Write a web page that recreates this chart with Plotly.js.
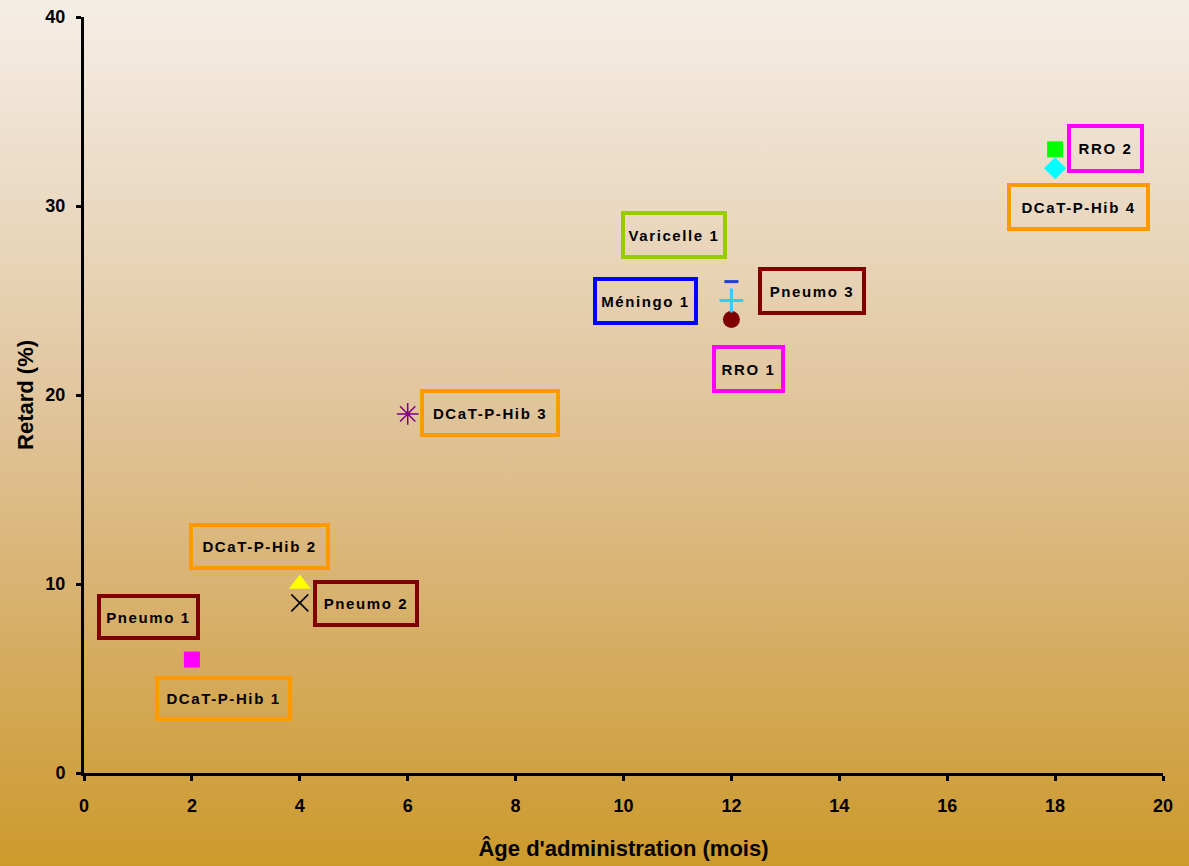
<!DOCTYPE html>
<html>
<head>
<meta charset="utf-8">
<script src="https://cdn.plot.ly/plotly-3.0.1.min.js"></script>
<style>
  html, body { margin: 0; padding: 0; }
  body {
    width: 1189px; height: 866px; overflow: hidden;
    background: linear-gradient(to bottom, #F5EEE6 0%, #EAD8C0 25%, #DFC296 50%, #D6AC62 75%, #CC9A2C 100%);
  }
  #chart { width: 1189px; height: 866px; }
  .annotation-text { letter-spacing: 1.6px; }
</style>
</head>
<body>
<div id="chart"></div>
<script>
// Data
const vaccines = ['Pneumo 1', 'DCaT-P-Hib 1', 'DCaT-P-Hib 2', 'Pneumo 2', 'DCaT-P-Hib 3',
                  'Varicelle 1', 'Pneumo 3', 'RRO 1', 'Méningo 1', 'RRO 2', 'DCaT-P-Hib 4'];
const ageMonths = [2, 2, 4, 4, 6, 12, 12, 12, 12, 18, 18];
const delayPct  = [6, 6, 10, 9, 19, 24, 24, 25, 26, 33, 32];
const xTicks = [0, 2, 4, 6, 8, 10, 12, 14, 16, 18, 20];
const yTicks = [0, 10, 20, 30, 40];

// Styles (marker per series, label box colour, label position)
const markerStyle = [
  {symbol: 'diamond', size: 10, color: '#000080'},
  {symbol: 'square', size: 16, color: '#FF00FF'},
  {symbol: 'triangle-up', size: 19, color: '#FFFF00'},
  {symbol: 'x-thin-open', size: 17, color: '#000000', line: {color: '#000000', width: 1.5}},
  {symbol: 'asterisk-open', size: 18, color: '#800080', line: {color: '#800080', width: 1.5}},
  {symbol: 'circle', size: 10, color: '#800000'},
  {symbol: 'circle', size: 17, color: '#800000'},
  {symbol: 'cross-thin-open', size: 17, color: '#33CCFF', line: {color: '#33CCFF', width: 3}},
  {symbol: 'line-ew-open', size: 10, color: '#1F3FD0', line: {color: '#1F3FD0', width: 3}},
  {symbol: 'square', size: 16, color: '#00FF00'},
  {symbol: 'diamond', size: 17, color: '#00FFFF'}
];
const boxColor = ['#800000', '#FF9900', '#FF9900', '#800000', '#FF9900',
                  '#99CC00', '#800000', '#FF00FF', '#0000FF', '#FF00FF', '#FF9900'];
const labelPos = [[1.2, 8.25], [2.59, 3.94], [3.26, 11.98], [5.22, 8.96], [7.53, 19.04],
                  [10.94, 28.45], [13.50, 25.49], [12.31, 21.36], [10.40, 24.96], [18.94, 33.03], [18.44, 29.93]];
const boxSize = [[103, 46], [137, 45], [141, 47], [106, 47], [140, 48],
                 [106, 48], [108, 48], [73, 48], [105, 48], [77, 49], [143, 48]];

const traces = vaccines.map((v, i) => ({
  type: 'scatter', mode: 'markers', name: v,
  x: [ageMonths[i]], y: [delayPct[i]],
  marker: Object.assign({line: {width: 0}}, markerStyle[i]),
  hoverinfo: 'name+x+y'
}));

const annotations = vaccines.map((v, i) => ({
  x: labelPos[i][0], y: labelPos[i][1], xref: 'x', yref: 'y',
  text: '<b>' + v + '</b>', showarrow: false,
  font: {family: 'Liberation Sans, Arial, sans-serif', size: 15, color: '#000000'},
  bordercolor: boxColor[i], borderwidth: 4, borderpad: 0,
  width: boxSize[i][0] - 8, height: boxSize[i][1] - 8,
  xanchor: 'center', yanchor: 'middle', align: 'center', valign: 'middle'
}));

const axisFont = {family: 'Liberation Sans, Arial, sans-serif', size: 18, color: '#000000'};
const titleFont = {family: 'Liberation Sans, Arial, sans-serif', size: 22, color: '#000'};
const layout = {
  width: 1189, height: 866,
  paper_bgcolor: 'rgba(0,0,0,0)', plot_bgcolor: 'rgba(0,0,0,0)',
  margin: {l: 84, r: 26, t: 17, b: 93},
  showlegend: false,
  xaxis: {
    range: [0, 20], tickvals: xTicks, ticktext: xTicks.map(t => '<b>' + t + '</b>'),
    showgrid: false, zeroline: false, showline: true, linecolor: '#000', linewidth: 3,
    ticks: 'outside', ticklen: 5, tickwidth: 3, tickcolor: '#000',
    tickfont: axisFont, ticklabelstandoff: 9,
    title: {text: "<b>Âge d'administration (mois)</b>", font: titleFont, standoff: 27}
  },
  yaxis: {
    range: [0, 40], tickvals: yTicks, ticktext: yTicks.map(t => '<b>' + t + '</b>'),
    showgrid: false, zeroline: false, showline: true, linecolor: '#000', linewidth: 3,
    ticks: 'outside', ticklen: 5, tickwidth: 3, tickcolor: '#000',
    tickfont: axisFont, ticklabelstandoff: 7,
    title: {text: '<b>Retard (%)</b>', font: titleFont, standoff: 6}
  },
  annotations: annotations
};

Plotly.newPlot('chart', traces, layout, {displayModeBar: false, staticPlot: true});
</script>
</body>
</html>
